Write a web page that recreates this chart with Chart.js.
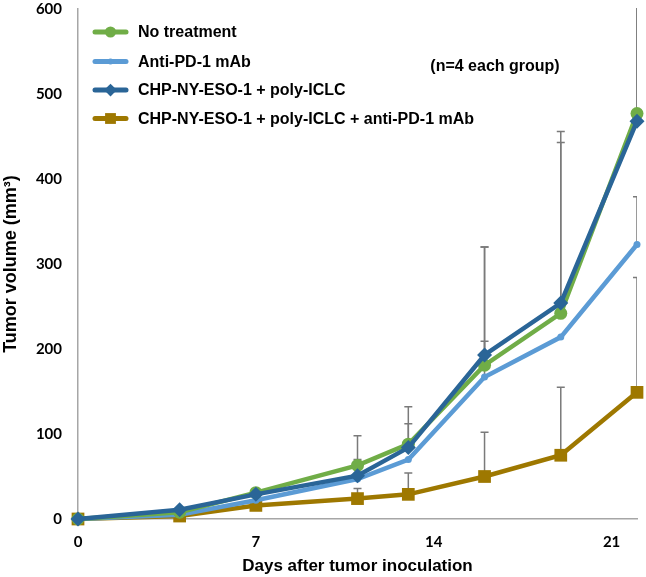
<!DOCTYPE html>
<html>
<head>
<meta charset="utf-8">
<script src="https://cdn.jsdelivr.net/npm/chart.js@4.4.1/dist/chart.umd.min.js"></script>
<style>
  html, body { margin: 0; padding: 0; background: #ffffff; }
  #wrap { width: 646px; height: 577px; position: relative; }
</style>
</head>
<body>
<div id="wrap"><canvas id="c" width="646" height="577"></canvas></div>
<script>
// ---- data ----
const days = [0, 4, 7, 11, 13, 16, 19, 22];
const seriesNames = [
  'No treatment',
  'Anti-PD-1 mAb',
  'CHP-NY-ESO-1 + poly-ICLC',
  'CHP-NY-ESO-1 + poly-ICLC + anti-PD-1 mAb'
];
const noTreatment    = [0, 8, 31, 63, 88, 181, 242, 477];
const noTreatmentErr = [0, 2, 4, 35, 44, 139, 214, 130];
const antiPD1        = [0, 5, 22, 47, 70, 167, 214, 323];
const antiPD1Err     = [0, 0, 0, 0, 0, 42, 0, 56];
const chpVaccine     = [0, 11, 29, 51, 84, 193, 254, 468];
const chpVaccineErr  = [0, 2, 3, 19, 28, 127, 189, 150];
const chpCombo       = [0, 3.5, 16, 24, 29, 50, 75, 149];
const chpComboErr    = [0, 1, 2, 12, 25, 52, 80, 135];
const xTicks = [0, 7, 14, 21];
const yTicks = [0, 100, 200, 300, 400, 500, 600];
const noteText = '(n=4 each group)';

const colors = ['#70AD47', '#5B9BD5', '#2A6597', '#9E7800'];
const styles = [
  { pointStyle: 'circle', radius: 6.5 },
  { pointStyle: 'circle', radius: 3.5 },
  { pointStyle: 'rectRot', radius: 7.5 },
  { pointStyle: 'rect', radius: 9 }
];
const values = [noTreatment, antiPD1, chpVaccine, chpCombo];
const errors = [noTreatmentErr, antiPD1Err, chpVaccineErr, chpComboErr];
const drawOrder = [1, 2, 0, 3];

const datasets = seriesNames.map((name, i) => ({
  label: name,
  data: days.map((d, j) => ({ x: d, y: values[i][j] })),
  errors: errors[i],
  borderColor: colors[i],
  backgroundColor: colors[i],
  borderWidth: 4.5,
  pointStyle: styles[i].pointStyle,
  pointRadius: styles[i].radius,
  pointBorderWidth: 0,
  pointBackgroundColor: colors[i],
  tension: 0,
  order: drawOrder[i],
  clip: false
}));

const errorBarPlugin = {
  id: 'errorBars',
  beforeDatasetsDraw(chart) {
    const { ctx, chartArea, scales } = chart;
    ctx.save();
    ctx.beginPath();
    ctx.rect(chartArea.left, chartArea.top - 1, chartArea.right - chartArea.left, chartArea.bottom - chartArea.top + 1);
    ctx.clip();
    ctx.strokeStyle = '#7a7a7a';
    ctx.lineWidth = 1.5;
    chart.data.datasets.forEach((ds) => {
      ds.data.forEach((pt, j) => {
        const e = ds.errors[j];
        if (!e) return;
        const x = scales.x.getPixelForValue(pt.x);
        const y0 = scales.y.getPixelForValue(pt.y);
        const y1 = scales.y.getPixelForValue(pt.y + e);
        ctx.beginPath();
        ctx.moveTo(x, y0);
        ctx.lineTo(x, y1);
        ctx.moveTo(x - 4, y1);
        ctx.lineTo(x + 4, y1);
        ctx.stroke();
      });
    });
    ctx.restore();
  }
};

const legendPlugin = {
  id: 'customLegend',
  afterDraw(chart) {
    const { ctx } = chart;
    ctx.save();
    const x0 = 95, x1 = 126, tx = 138;
    const rowY = [32, 61.5, 90, 118.5];
    ctx.font = 'bold 16px "Liberation Sans", Arial, sans-serif';
    ctx.textBaseline = 'middle';
    ctx.textAlign = 'left';
    seriesNames.forEach((name, i) => {
      const y = rowY[i];
      ctx.strokeStyle = colors[i];
      ctx.lineWidth = 5;
      ctx.lineCap = 'round';
      ctx.beginPath();
      ctx.moveTo(x0, y);
      ctx.lineTo(x1, y);
      ctx.stroke();
      ctx.fillStyle = colors[i];
      Chart.helpers.drawPoint(ctx, {
        pointStyle: styles[i].pointStyle,
        radius: styles[i].radius * 0.85,
        rotation: 0,
        borderWidth: 0
      }, (x0 + x1) / 2, y);
      ctx.fillStyle = '#000000';
      ctx.fillText(name, tx, y + 1);
    });
    ctx.textAlign = 'center';
    ctx.fillText(noteText, 495, 67);
    ctx.restore();
  }
};

new Chart(document.getElementById('c'), {
  type: 'line',
  data: { datasets },
  plugins: [errorBarPlugin, legendPlugin],
  options: {
    responsive: false,
    animation: false,
    events: [],
    layout: { padding: { left: 0, right: 6, top: 7, bottom: 0 } },
    plugins: {
      legend: { display: false },
      tooltip: { enabled: false }
    },
    scales: {
      x: {
        type: 'linear',
        min: 0,
        max: 22,
        afterBuildTicks(scale) { scale.ticks = xTicks.map(v => ({ value: v })); },
        afterFit(scale) { scale.height = 58; scale.paddingLeft = 0; scale.paddingRight = 0; },
        grid: { display: false, drawTicks: false },
        border: { display: true, color: '#a6a6a6', width: 1.5 },
        ticks: {
          padding: 14,
          color: '#000000',
          font: { family: 'Lato, "Liberation Sans", sans-serif', weight: 'bold', size: 15 }
        },
        title: {
          display: true,
          text: 'Days after tumor inoculation',
          color: '#000000',
          padding: { top: 0, bottom: 0 },
          font: { family: '"Liberation Sans", Arial, sans-serif', weight: 'bold', size: 17 }
        }
      },
      y: {
        type: 'linear',
        min: 0,
        max: 600,
        afterBuildTicks(scale) { scale.ticks = yTicks.map(v => ({ value: v })); },
        afterFit(scale) { scale.width = 78; scale.paddingTop = 0; scale.paddingBottom = 0; },
        grid: { display: false, drawTicks: false },
        border: { display: true, color: '#a6a6a6', width: 1.5 },
        ticks: {
          padding: 16,
          color: '#000000',
          font: { family: 'Lato, "Liberation Sans", sans-serif', weight: 'bold', size: 15 }
        },
        title: {
          display: true,
          text: 'Tumor volume (mm³)',
          color: '#000000',
          padding: { top: 0, bottom: 0 },
          font: { family: '"Liberation Sans", Arial, sans-serif', weight: 'bold', size: 18 }
        }
      }
    }
  }
});
</script>
</body>
</html>
